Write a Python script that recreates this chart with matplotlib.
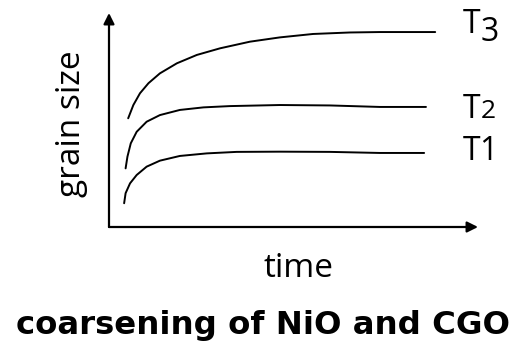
import matplotlib
matplotlib.use("Agg")
import matplotlib.pyplot as plt

plt.rcParams['font.family'] = ['Open Sans', 'DejaVu Sans']

# Schematic grain growth: grain size vs. time at three temperatures
t1_time = [0.41, 0.45, 0.57, 0.75, 1.02, 1.38, 1.92, 2.65, 3.46, 4.63, 5.99, 7.34, 8.54]
t1_size = [1.11, 1.58, 2.04, 2.43, 2.82, 3.10, 3.32, 3.44, 3.51, 3.52, 3.51, 3.46, 3.46]

t2_time = [0.45, 0.50, 0.59, 0.75, 1.02, 1.38, 1.92, 2.56, 3.28, 4.63, 5.99, 7.34, 8.59]
t2_size = [2.74, 3.29, 3.91, 4.45, 4.92, 5.23, 5.47, 5.59, 5.65, 5.70, 5.68, 5.61, 5.61]

t3_time = [0.52, 0.66, 0.84, 1.07, 1.38, 1.84, 2.38, 3.01, 3.82, 4.63, 5.53, 6.53, 7.34, 8.84]
t3_size = [5.08, 5.70, 6.25, 6.72, 7.18, 7.65, 8.04, 8.35, 8.66, 8.86, 9.02, 9.09, 9.11, 9.11]

# (letter, index, curve x, curve y, label baseline, index size, index gap px, index drop px)
series = [
    ("T", "3", t3_time, t3_size, 9.07, 23, 17.5, 8.5),
    ("T", "2", t2_time, t2_size, 5.09, 19, 17.5, 0),
    ("T", "1", t1_time, t1_size, 3.15, 23, 16.5, 0),
]

W, H = 522, 346
PX = 72 / 100  # points per pixel at dpi 100
fig = plt.figure(figsize=(W / 100, H / 100), dpi=100)
ax = fig.add_axes([109 / W, (H - 227) / H, 369 / W, 214 / H])
ax.set_xlim(0, 10)
ax.set_ylim(0, 10)
ax.axis('off')

label_x = 9.59
for letter, idx, x, y, base, isize, gap, drop in series:
    ax.plot(x, y, color='black', lw=1.4, solid_capstyle='round',
            solid_joinstyle='round')
    ax.text(label_x, base, letter, fontsize=23, ha='left', va='baseline',
            color='black')
    ax.annotate(idx, xy=(label_x, base), xytext=(gap * PX, -drop * PX),
                textcoords='offset points', fontsize=isize, ha='left',
                va='baseline', color='black')

arrow = dict(arrowstyle='-|>', lw=1.6, color='black', mutation_scale=16,
             shrinkA=0, shrinkB=0)
ax.annotate('', xy=(1, 0), xytext=(0, 0), xycoords='axes fraction',
            textcoords='axes fraction', arrowprops=arrow, annotation_clip=False)
ax.annotate('', xy=(0, 1), xytext=(0, 0), xycoords='axes fraction',
            textcoords='axes fraction', arrowprops=arrow, annotation_clip=False)

fig.text(298.5 / W, 1 - 277 / H, 'time', fontsize=24, ha='center',
         va='baseline')
fig.text(79.5 / W, 1 - 124 / H, 'grain size', fontsize=24, ha='center',
         va='baseline', rotation=90, rotation_mode='anchor')
fig.text(262.5 / W, 1 - 334 / H, 'coarsening of NiO and CGO', fontsize=23.3,
         fontweight='bold', family='DejaVu Sans', ha='center', va='baseline')

fig.savefig('out.png', dpi=100)
